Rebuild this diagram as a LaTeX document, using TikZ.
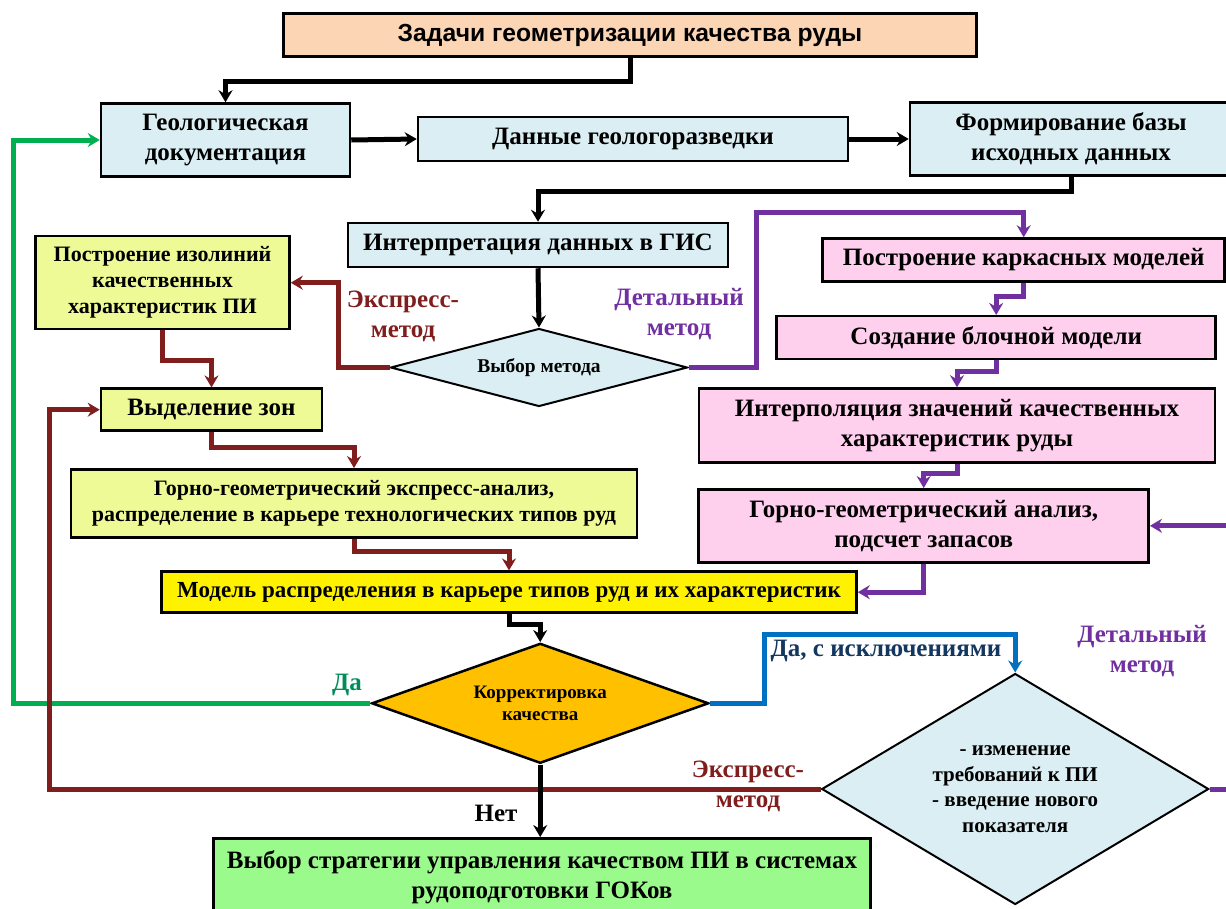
\documentclass[tikz,border=0pt]{standalone}
\usepackage{fontspec}
\setmainfont{Liberation Serif}
\newfontfamily\headfont{Liberation Sans}
\usepackage{xcolor}
\usepackage{tikz}
\usetikzlibrary{shapes.geometric,arrows.meta,positioning,calc}
\definecolor{peach}{RGB}{252, 213, 180}
\definecolor{paleblue}{RGB}{218, 238, 243}
\definecolor{limefill}{RGB}{238, 250, 150}
\definecolor{pinkfill}{RGB}{255, 208, 238}
\definecolor{greenfill}{RGB}{155, 250, 140}
\definecolor{orangefill}{RGB}{255, 192, 0}
\definecolor{expressred}{RGB}{128, 30, 30}
\definecolor{detailpurple}{RGB}{112, 48, 160}
\definecolor{yesgreen}{RGB}{0, 176, 80}
\definecolor{yesgreentext}{RGB}{0, 140, 90}
\definecolor{exblue}{RGB}{0, 112, 192}
\definecolor{exbluetext}{RGB}{20, 55, 95}

\begin{document}
\begin{tikzpicture}[
    x=1pt, y=-1pt,
    box/.style={rectangle, draw=black, line width=2.5pt, align=center, inner sep=0pt,
        font=\bfseries\fontsize{25}{30}\selectfont},
    headbox/.style={box, fill=peach, font=\headfont\bfseries\fontsize{24.7}{28}\selectfont},
    geobox/.style={box, fill=paleblue},
    expbox/.style={box, fill=limefill, font=\bfseries\fontsize{22}{26}\selectfont},
    detbox/.style={box, fill=pinkfill},
    choice/.style={diamond, draw=black, line width=2pt, align=center, inner sep=0pt},
    lbl/.style={align=center, font=\bfseries\fontsize{25}{30}\selectfont},
    arrow/.style={-{Stealth[length=12pt,width=14pt,inset=4pt]}, line width=5pt, black},
    rarrow/.style={arrow, expressred},
    parrow/.style={arrow, detailpurple},
    garrow/.style={arrow, yesgreen},
    barrow/.style={arrow, exblue}
]
\useasboundingbox (0,0) rectangle (1226,908);

% Top level
\node[headbox, minimum width=693pt, minimum height=43pt] (task) at (630,35) {Задачи геометризации качества руды};
\node[geobox, minimum width=249pt, minimum height=73pt] (geodoc) at (225.5,140) {Геологическая\\документация};
\node[geobox, minimum width=430pt, minimum height=44pt] (survey) at (633,139) {Данные геологоразведки};
\node[geobox, minimum width=322pt, minimum height=73pt] (database) at (1071,139) {Формирование базы\\исходных данных};
\node[geobox, minimum width=380pt, minimum height=44pt] (gis) at (538,245) {Интерпретация данных в ГИС};
\node[choice, fill=paleblue, aspect=3.8, minimum width=297pt, minimum height=78pt,
    font=\bfseries\fontsize{19.5}{22}\selectfont] (method) at (539,367.5) {Выбор метода};

% Express branch
\node[expbox, minimum width=254pt, minimum height=93pt] (isolines) at (162.5,282.7) {Построение изолиний\\качественных\\характеристик ПИ};
\node[expbox, minimum width=221pt, minimum height=42pt, font=\bfseries\fontsize{25}{28}\selectfont] (zones) at (211.5,409.7) {Выделение зон};
\node[expbox, minimum width=566pt, minimum height=68pt] (expanalysis) at (354,503.3) {Горно-геометрический экспресс-анализ,\\распределение в карьере технологических типов руд};

% Detailed branch
\node[detbox, minimum width=402pt, minimum height=43pt] (wireframe) at (1023.7,260) {Построение каркасных моделей};
\node[detbox, minimum width=439pt, minimum height=43pt] (blockmodel) at (996.2,337.7) {Создание блочной модели};
\node[detbox, minimum width=516pt, minimum height=74pt] (interp) at (957,425.5) {Интерполяция значений качественных\\характеристик руды};
\node[detbox, minimum width=450pt, minimum height=73pt] (reserves) at (923.7,525.8) {Горно-геометрический анализ,\\подсчет запасов};

% Model and decisions
\node[expbox, fill=yellow, minimum width=695pt, minimum height=41pt, font=\bfseries\fontsize{23}{26}\selectfont] (oremodel) at (509,592.2) {Модель распределения в карьере типов руд и их характеристик};
\node[choice, fill=orangefill, line width=2.5pt, aspect=2.8, minimum width=337pt, minimum height=120pt,
    font=\bfseries\fontsize{19}{22}\selectfont] (correction) at (540.2,703.3) {Корректировка\\качества};
\node[choice, fill=paleblue, aspect=1.67, minimum width=387pt, minimum height=231pt,
    font=\bfseries\fontsize{21}{25.5}\selectfont] (change) at (1015.2,789) {- изменение\\требований к ПИ\\- введение нового\\показателя};
\node[box, fill=greenfill, minimum width=657pt, minimum height=78pt] (strategy) at (542,877.3) {Выбор стратегии управления качеством ПИ в системах\\рудоподготовки ГОКов};

% Labels
\node[lbl, text=expressred] (lblexp1) at (403,316) {Экспресс-\\метод};
\node[lbl, text=detailpurple] (lbldet1) at (679,314) {Детальный\\метод};
\node[lbl, text=yesgreentext] (lblyes) at (347,685) {Да};
\node[lbl, text=exbluetext] (lblpart) at (886,651) {Да, с исключениями};
\node[lbl, text=detailpurple] (lbldet2) at (1142,651) {Детальный\\метод};
\node[lbl, text=expressred] (lblexp2) at (748,786) {Экспресс-\\метод};
\node[lbl] (lblno) at (496,813) {Нет};

% Connectors
\draw[arrow] (task.south) -- ++(0,23.5) -| (geodoc.north);
\draw[arrow] (geodoc.east) -- (survey.west);
\draw[arrow] (survey.east) -- (database.west);
\draw[arrow] (database.south) -- ++(0,15) -| (gis.north);
\draw[arrow] (gis.south) -- (method.north);

\draw[rarrow] (method.west) -- ++(-51.4,0) |- (isolines.east);
\draw[rarrow] (isolines.south) -- ++(0,30) -| (zones.north);
\draw[rarrow] (zones.south) -- ++(0,16) -| (expanalysis.north);
\draw[rarrow] (expanalysis.south) -- ++(0,12.7) -| (oremodel.north);

\draw[parrow] (method.east) -- ++(68,0) |- ($(wireframe.north)+(0,-25)$) -- (wireframe.north);
\draw[parrow] (wireframe.south) -- ++(0,13.3) -| (blockmodel.north);
\draw[parrow] (blockmodel.south) -- ++(0,11.4) -| (interp.north);
\draw[parrow] (interp.south) -- ++(0,10) -| (reserves.north);
\draw[parrow] (reserves.south) |- (oremodel.east);

\draw[arrow] (oremodel.south) -- ++(0,10.5) -| (correction.north);
\draw[garrow] (correction.west) -- (13.8,703.3) |- (geodoc.west);
\draw[barrow] (correction.east) -- ++(55,0) |- ($(change.north)+(0,-38)$) -- (change.north);
\draw[rarrow] (change.west) -- (49.4,789) |- (zones.west);
\draw[parrow] (change.east) -- (1245,789) |- (reserves.east);
\draw[arrow] (correction.south) -- (correction.south |- strategy.north);

\end{tikzpicture}
\end{document}
